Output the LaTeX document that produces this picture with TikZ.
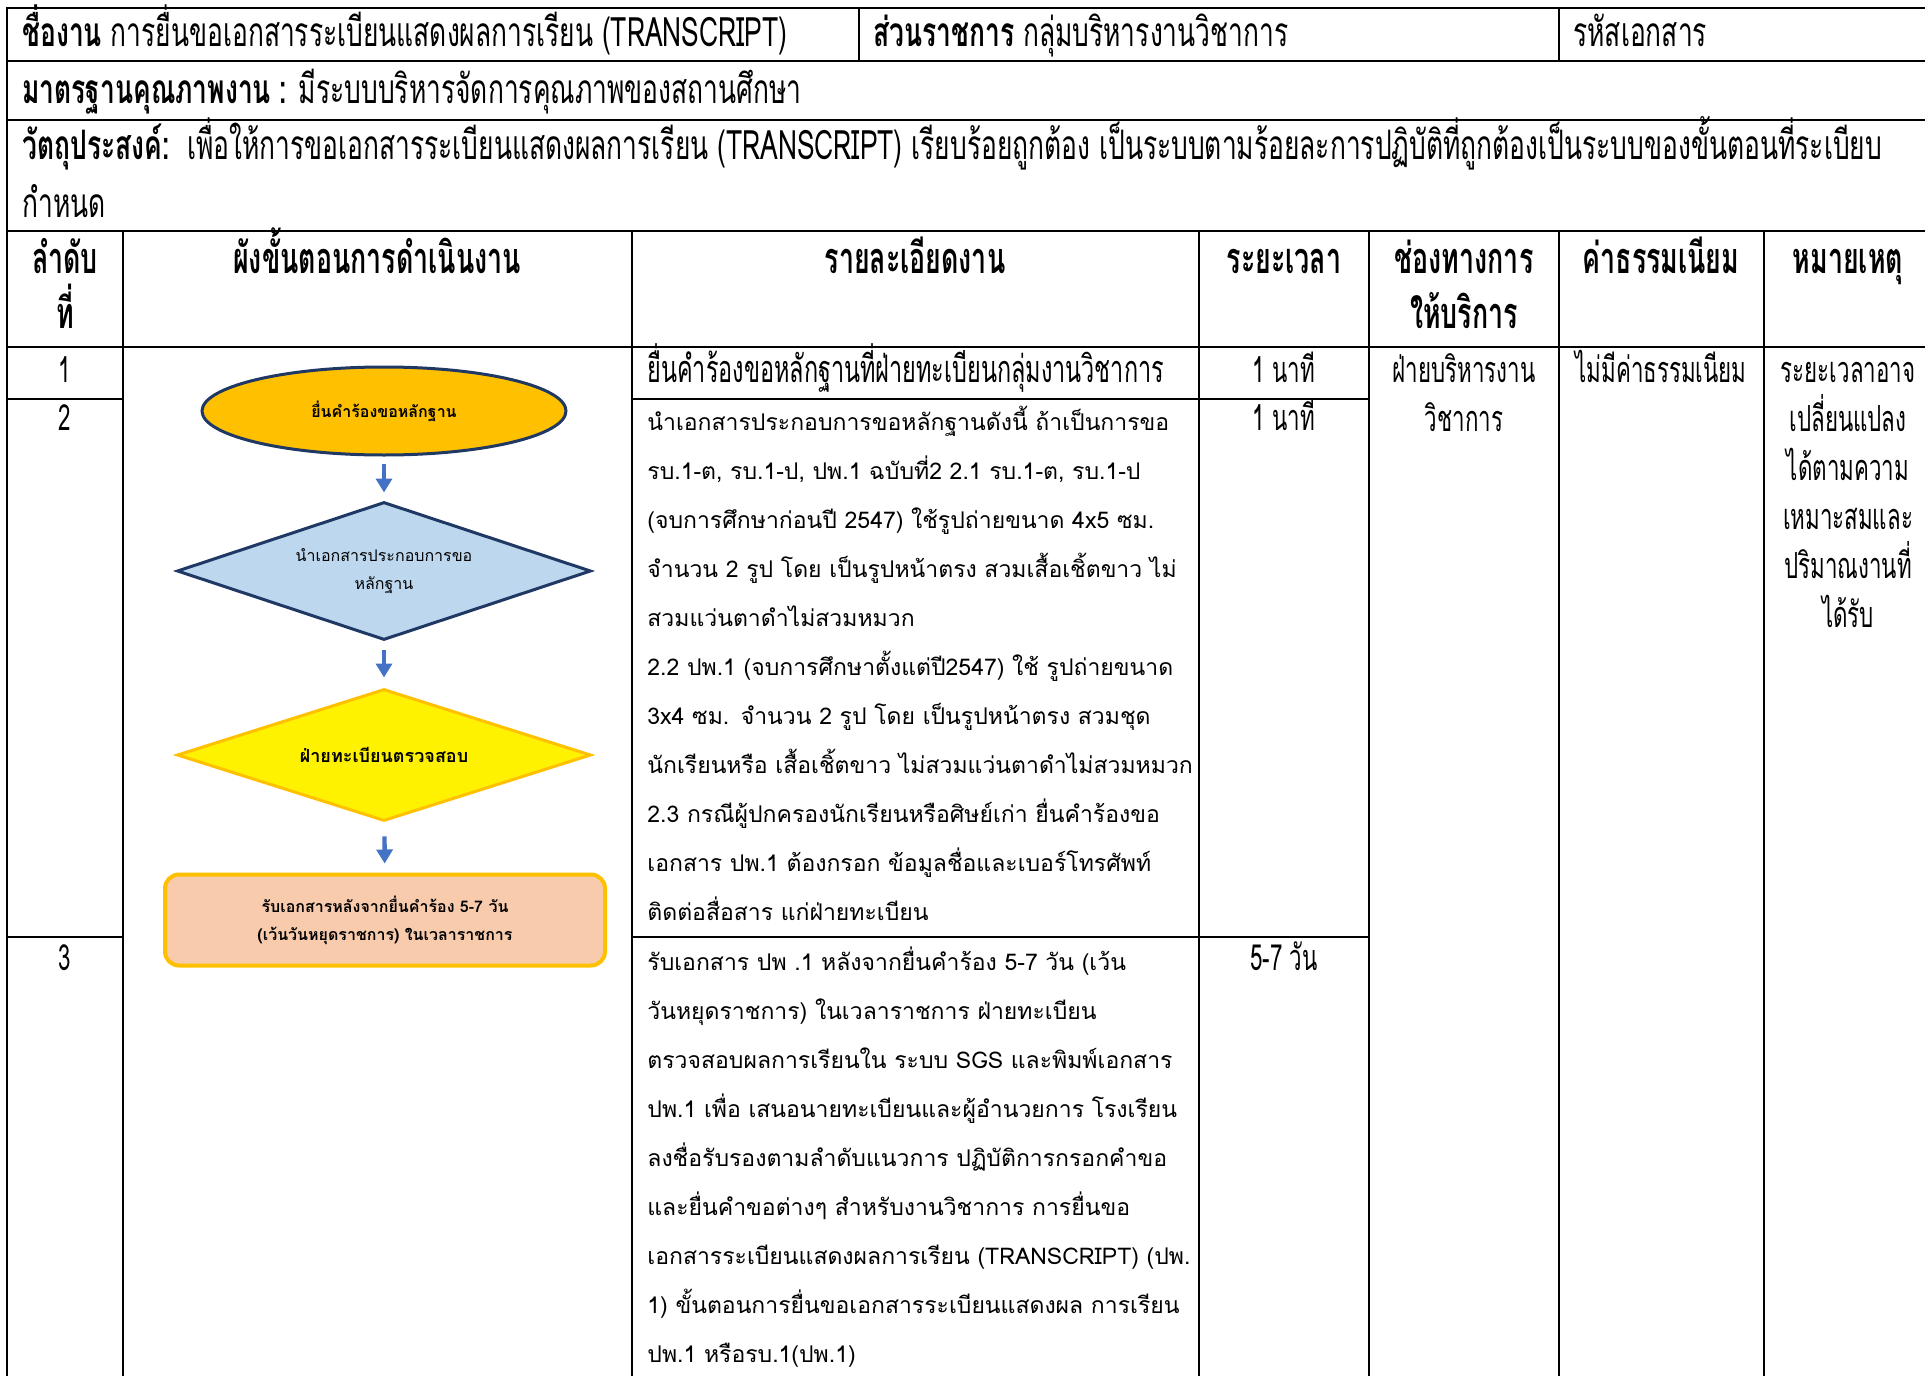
\documentclass[tikz,border=0pt]{standalone}
\usepackage{fontspec}
\setmainfont[Script=Thai]{Loma}
\newfontfamily\cndfont[Script=Thai,FakeStretch=0.62]{Loma}
\newfontfamily\topfont[Script=Thai,FakeStretch=0.65]{Loma}
\usetikzlibrary{shapes.geometric,arrows.meta}
\definecolor{navy}{HTML}{203864}
\definecolor{gold}{HTML}{FFC000}
\definecolor{lblue}{HTML}{BDD7EE}
\definecolor{peach}{HTML}{F8CBAD}
\definecolor{ablue}{HTML}{4472C4}
\newcommand\mydtl{\fontsize{11.5}{24.5}\selectfont}
\newcommand\mycnd{\cndfont\fontsize{18}{24.5}\selectfont}
\newcommand\mytop{\topfont\fontsize{20.3}{24.5}\selectfont}
\newcommand\myhead{\cndfont\fontsize{21.6}{27.5}\selectfont\bfseries}
\newcommand\myflow{\fontsize{8}{14}\selectfont}
\begin{document}
\begin{tikzpicture}[x=0.5pt,y=-0.5pt,
  tl/.style={line width=1.2pt,line cap=rect},
  lt/.style={inner sep=0pt,anchor=base west,font=\mycnd},
  tp/.style={inner sep=0pt,anchor=base west,font=\mytop},
  ct/.style={inner sep=0pt,anchor=base,font=\mycnd},
  mc/.style={inner sep=0pt,anchor=base,text width=200pt,align=center,font=\mycnd},
  hd/.style={inner sep=0pt,anchor=base,text width=200pt,align=center,font=\myhead},
  dl/.style={inner sep=0pt,anchor=base west,text width=330pt,align=left,font=\mydtl},
  flowarrow/.style={draw=ablue,line width=2.2pt,-{Triangle[length=7pt,width=8pt]}},
  ]
\useasboundingbox (0,0) rectangle (1925,1375);
% table lines
\draw[tl] (7,8) -- (1925,8);
\draw[tl] (7,61) -- (1925,61);
\draw[tl] (7,120) -- (1925,120);
\draw[tl] (7,231) -- (1925,231);
\draw[tl] (7,347) -- (1925,347);
\draw[tl] (7,399) -- (123,399);
\draw[tl] (632,399) -- (1369,399);
\draw[tl] (7,937) -- (123,937);
\draw[tl] (632,937) -- (1369,937);
\draw[tl] (7,8) -- (7,1375);
\draw[tl] (859,8) -- (859,61);
\draw[tl] (1559,8) -- (1559,61);
\draw[tl] (123,231) -- (123,1375);
\draw[tl] (632,231) -- (632,1375);
\draw[tl] (1199,231) -- (1199,1375);
\draw[tl] (1369,231) -- (1369,1375);
\draw[tl] (1559,231) -- (1559,1375);
\draw[tl] (1764,231) -- (1764,1375);
% top rows
\node[tp] (title) at (22,47) {\textbf{ชื่องาน} การยื่นขอเอกสารระเบียนแสดงผลการเรียน (TRANSCRIPT)};
\node[tp] (dept) at (873,47) {\textbf{ส่วนราชการ} กลุ่มบริหารงานวิชาการ};
\node[tp] (code) at (1573,47) {รหัสเอกสาร};
\node[tp] (std) at (22,104) {\textbf{มาตรฐานคุณภาพงาน :} มีระบบบริหารจัดการคุณภาพของสถานศึกษา};
\node[tp] (obj) at (22,160) {\textbf{วัตถุประสงค์:}\ \ เพื่อให้การขอเอกสารระเบียนแสดงผลการเรียน (TRANSCRIPT) เรียบร้อยถูกต้อง เป็นระบบตามร้อยละการปฏิบัติที่ถูกต้องเป็นระบบของขั้นตอนที่ระเบียบ};
\node[tp] (obj2) at (22,218) {กำหนด};
% header
\node[hd] (h1) at (65,273) {ลำดับ\\ที่};
\node[hd] (h2) at (377,273) {ผังขั้นตอนการดำเนินงาน};
\node[hd] (h3) at (915,273) {รายละเอียดงาน};
\node[hd] (h4) at (1284,273) {ระยะเวลา};
\node[hd] (h5) at (1464,273) {ช่องทางการ\\ให้บริการ};
\node[hd] (h6) at (1661,273) {ค่าธรรมเนียม};
\node[hd] (h7) at (1848,273) {หมายเหตุ};
% row numbers
\node[ct] (n1) at (65,382) {1};
\node[ct] (n2) at (65,430) {2};
\node[ct] (n3) at (65,970) {3};
% details
\node[lt,font=\cndfont\fontsize{18.9}{24.5}\selectfont] (d1txt) at (647,382) {ยื่นคำร้องขอหลักฐานที่ฝ่ายทะเบียนกลุ่มงานวิชาการ};
\node[dl] (d2txt) at (647,430) {นำเอกสารประกอบการขอหลักฐานดังนี้ ถ้าเป็นการขอ\\
รบ.1-ต, รบ.1-ป, ปพ.1 ฉบับที่2 2.1 รบ.1-ต, รบ.1-ป\\
(จบการศึกษาก่อนปี 2547) ใช้รูปถ่ายขนาด 4x5 ซม.\\
จำนวน 2 รูป โดย เป็นรูปหน้าตรง สวมเสื้อเชิ้ตขาว ไม่\\
สวมแว่นตาดำไม่สวมหมวก\\
2.2 ปพ.1 (จบการศึกษาตั้งแต่ปี2547) ใช้ รูปถ่ายขนาด\\
3x4 ซม. จำนวน 2 รูป โดย เป็นรูปหน้าตรง สวมชุด\\
นักเรียนหรือ เสื้อเชิ้ตขาว ไม่สวมแว่นตาดำไม่สวมหมวก\\
2.3 กรณีผู้ปกครองนักเรียนหรือศิษย์เก่า ยื่นคำร้องขอ\\
เอกสาร ปพ.1 ต้องกรอก ข้อมูลชื่อและเบอร์โทรศัพท์\\
ติดต่อสื่อสาร แก่ฝ่ายทะเบียน};
\node[dl] (d3txt) at (647,970) {รับเอกสาร ปพ .1 หลังจากยื่นคำร้อง 5-7 วัน (เว้น\\
วันหยุดราชการ) ในเวลาราชการ ฝ่ายทะเบียน\\
ตรวจสอบผลการเรียนใน ระบบ SGS และพิมพ์เอกสาร\\
ปพ.1 เพื่อ เสนอนายทะเบียนและผู้อำนวยการ โรงเรียน\\
ลงชื่อรับรองตามลำดับแนวการ ปฏิบัติการกรอกคำขอ\\
และยื่นคำขอต่างๆ สำหรับงานวิชาการ การยื่นขอ\\
เอกสารระเบียนแสดงผลการเรียน (TRANSCRIPT) (ปพ.\\
1) ขั้นตอนการยื่นขอเอกสารระเบียนแสดงผล การเรียน\\
ปพ.1 หรือรบ.1(ปพ.1)};
% time
\node[ct] (t1) at (1284,382) {1 นาที};
\node[ct] (t2) at (1284,430) {1 นาที};
\node[ct] (t3) at (1284,970) {5-7 วัน};
% channel, fee, remark
\node[mc] (ch) at (1464,382) {ฝ่ายบริหารงาน\\วิชาการ};
\node[ct] (fee) at (1661,382) {ไม่มีค่าธรรมเนียม};
\node[mc] (rem) at (1848,382) {ระยะเวลาอาจ\\เปลี่ยนแปลง\\ได้ตามความ\\เหมาะสมและ\\ปริมาณงานที่\\ได้รับ};
% flowchart
\node[ellipse,draw=navy,line width=1.5pt,fill=gold,minimum width=182pt,minimum height=44pt,font=\myflow\bfseries] (ell) at (384,411) {ยื่นคำร้องขอหลักฐาน};
\node[diamond,aspect=3,draw=navy,line width=1.5pt,fill=lblue,minimum width=207pt,minimum height=69pt,inner sep=1pt,align=center,font=\myflow] (dia1) at (384,571) {นำเอกสารประกอบการขอ\\หลักฐาน};
\node[diamond,aspect=3.1,draw=gold,line width=1.5pt,fill=yellow,minimum width=207pt,minimum height=66pt,inner sep=1pt,font=\fontsize{9}{14}\selectfont\bfseries] (dia2) at (384,755) {ฝ่ายทะเบียนตรวจสอบ};
\node[rectangle,rounded corners=7pt,draw=gold,line width=2pt,fill=peach,minimum width=220pt,minimum height=45.5pt,align=center,font=\myflow\bfseries] (rcv) at (385,920) {รับเอกสารหลังจากยื่นคำร้อง 5-7 วัน\\(เว้นวันหยุดราชการ) ในเวลาราชการ};
\draw[flowarrow,shorten <=3.5pt,shorten >=4pt] (ell) -- (dia1);
\draw[flowarrow,shorten <=4pt,shorten >=5pt] (dia1) -- (dia2);
\draw[flowarrow,shorten <=7pt,shorten >=4.5pt] (dia2) -- (rcv);
\end{tikzpicture}
\end{document}
